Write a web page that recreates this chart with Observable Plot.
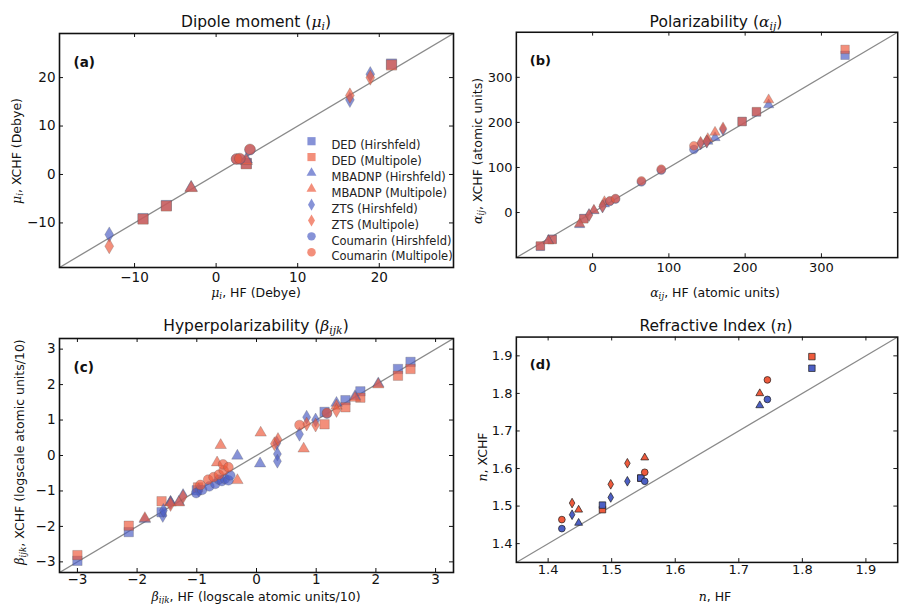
<!DOCTYPE html>
<html><head><meta charset="utf-8">
<script src="https://cdn.jsdelivr.net/npm/d3@7"></script>
<script src="https://cdn.jsdelivr.net/npm/@observablehq/plot@0.6"></script>
<style>
html,body{margin:0;padding:0;background:#fff;overflow:hidden;}
#wrap{position:relative;width:903px;height:604px;overflow:hidden;font-family:"DejaVu Sans",sans-serif;color:#111;}
.panel{position:absolute;}
.lab{position:absolute;white-space:nowrap;line-height:1;font-size:12.5px;}
.ttl{font-size:15.5px;}
.lab i{font-family:"DejaVu Serif",serif;font-style:italic;}
.lab sub{font-size:70%;vertical-align:-0.25em;line-height:0;}
</style></head><body><div id="wrap"></div>
<script>
// ---------- data ----------
const seriesNames = ["DED (Hirshfeld)","DED (Multipole)","MBADNP (Hirshfeld)","MBADNP (Multipole)","ZTS (Hirshfeld)","ZTS (Multipole)","Coumarin (Hirshfeld)","Coumarin (Multipole)"];

// (a) Dipole moment  [HF, XCHF]
const dipDEDH = [[-8.96,-9.1],[-6.1,-6.4],[3.7,2.3],[21.5,22.8]];
const dipDEDM = [[-8.96,-9.2],[-6.1,-6.5],[3.7,2.2],[21.5,22.6]];
const dipMBH  = [[-3.06,-2.7],[3.7,3.1]];
const dipMBM  = [[-3.06,-2.8],[3.7,2.8]];
const dipZTSH = [[-13.1,-12.4],[16.4,15.4],[18.9,20.7]];
const dipZTSM = [[-13.1,-14.8],[16.4,16.3],[18.9,20.0]];
const dipCouH = [[2.5,3.2],[2.9,3.2],[4.15,5.1]];
const dipCouM = [[2.5,3.2],[2.9,3.3],[4.15,5.2]];

// (b) Polarizability
const polDEDH = [[-68.5,-75],[-53,-59],[-11.5,-13],[196,202],[214.8,223],[331,349]];
const polDEDM = [[-68.5,-74],[-53,-60],[-11.5,-14],[196,202],[214.8,224],[331,362]];
const polMBH  = [[-58,-62],[-17,-27],[1.7,4],[15.5,19],[151,158],[160.5,166],[230.8,239]];
const polMBM  = [[-58,-63],[-17,-25],[1.7,5],[15.5,24],[151,164],[160.5,178],[230.8,250]];
const polZTSH = [[-4.7,-5],[13,13],[141.6,153],[149.7,157],[171,184]];
const polZTSM = [[-4.7,-6],[13,14],[141.6,155],[149.7,158],[171,187]];
const polCouH = [[22.7,25],[30,30],[64,68],[90,94],[132.8,140]];
const polCouM = [[22.7,26],[30,31],[64,70],[90,96],[132.8,148]];

// (c) Hyperpolarizability
const hypDEDH = [[-3.0,-2.97],[-2.14,-2.16],[-1.59,-1.6],[-1.0,-0.98],[1.14,1.23],[1.49,1.56],[1.74,1.81],[2.37,2.44],[2.58,2.64]];
const hypDEDM = [[-3.0,-2.81],[-2.14,-1.98],[-1.59,-1.29],[-0.98,-0.9],[1.14,0.88],[1.49,1.36],[1.74,1.63],[2.37,2.25],[2.58,2.44]];
const hypMBH  = [[-1.87,-1.8],[-1.44,-1.31],[-1.3,-1.31],[-0.32,-0.01],[0.06,-0.23],[1.34,1.48],[1.65,1.67],[2.04,2.03]];
const hypMBM  = [[-1.87,-1.77],[-1.44,-1.33],[-1.3,-1.33],[-0.6,0.29],[-0.66,-0.2],[0.07,0.64],[-0.32,-0.7],[0.79,0.19],[1.34,1.4],[1.65,1.62],[2.04,2.0]];
const hypZTSH = [[-1.57,-1.69],[-1.56,-1.55],[-1.44,-1.33],[-1.23,-1.13],[-0.97,-0.97],[0.34,0.35],[0.35,0.04],[0.35,-0.16],[0.72,0.6],[0.84,1.08],[0.99,1.0]];
const hypZTSM = [[-1.44,-1.38],[-1.23,-1.16],[0.3,0.33],[0.36,0.45],[0.84,0.89],[0.99,0.86],[1.34,1.27]];
const hypCouH = [[-1.01,-1.06],[-0.91,-0.97],[-0.79,-0.87],[-0.69,-0.8],[-0.63,-0.68],[-0.58,-0.72],[-0.53,-0.66],[-0.47,-0.7],[-0.44,-0.56],[1.18,1.18]];
const hypCouM = [[-0.94,-0.83],[-0.81,-0.68],[-0.72,-0.61],[-0.63,-0.54],[-0.55,-0.42],[-0.56,-0.25],[-0.47,-0.33],[0.72,0.86],[1.18,1.2]];

// (d) Refractive index
const refDEDH = [[1.4855,1.5026],[1.5458,1.5745],[1.815,1.867]];
const refDEDM = [[1.4855,1.4905],[1.5458,1.5745],[1.815,1.898]];
const refMBH  = [[1.448,1.455],[1.733,1.768]];
const refMBM  = [[1.448,1.490],[1.552,1.629],[1.733,1.80]];
const refZTSH = [[1.4377,1.477],[1.4985,1.523],[1.5247,1.566]];
const refZTSM = [[1.4377,1.508],[1.4985,1.558],[1.5247,1.614]];
const refCouH = [[1.4216,1.440],[1.552,1.566],[1.745,1.784]];
const refCouM = [[1.4216,1.464],[1.552,1.590],[1.745,1.836]];

// axis domains and ticks
const dipDomain = [-19.2, 29.1], dipTicks = [-10, 0, 10, 20];
const polDomain = [-100, 400],   polTicks = [0, 100, 200, 300];
const hypDomain = [-3.3, 3.3],   hypTicks = [-3, -2, -1, 0, 1, 2, 3];
const refDomain = [1.35, 1.95],  refTicks = [1.4, 1.5, 1.6, 1.7, 1.8, 1.9];

// ---------- style ----------
const BLUE = "#4c5fc4", RED = "#ee5a3c";
const SYM = ["square", "triangle", "diamond", "circle"];
const RF = [1.0, 0.8, 0.8, 0.92];

const panels = [
  {tag:"(a)", left:0, top:0, width:460, height:300, mL:59, mR:7, mT:33, mB:33, pad:5,
   domain:dipDomain, ticks:dipTicks, fmt:d3.format("d"),
   series:[dipDEDH,dipDEDM,dipMBH,dipMBM,dipZTSH,dipZTSM,dipCouH,dipCouM], base:5.8, soft:true, legend:true},
  {tag:"(b)", left:460, top:0, width:460, height:300, mL:58, mR:6, mT:33, mB:33, pad:5,
   domain:polDomain, ticks:polTicks, fmt:d3.format("d"),
   series:[polDEDH,polDEDM,polMBH,polMBM,polZTSH,polZTSM,polCouH,polCouM], base:5.0, soft:true},
  {tag:"(c)", left:0, top:300, width:460, height:304, mL:59, mR:7, mT:38, mB:32, pad:2,
   domain:hypDomain, ticks:hypTicks, fmt:d3.format("d"),
   series:[hypDEDH,hypDEDM,hypMBH,hypMBM,hypZTSH,hypZTSM,hypCouH,hypCouM], base:5.3, soft:true},
  {tag:"(d)", left:460, top:300, width:460, height:304, mL:58, mR:6, mT:38, mB:32, pad:2,
   domain:refDomain, ticks:refTicks, fmt:d3.format(".1f"),
   series:[refDEDM,refDEDH,refMBM,refMBH,refZTSM,refZTSH,refCouM,refCouH], order:"MH", base:3.8, soft:false}
];

const labels = [
  {cx:256, cy:23, cls:"ttl", html:'Dipole moment (<i>μ<sub>i</sub></i>)'},
  {cx:716, cy:23, cls:"ttl", html:'Polarizability (<i>α<sub>ij</sub></i>)'},
  {cx:256, cy:327, cls:"ttl", html:'Hyperpolarizability (<i>β<sub>ijk</sub></i>)'},
  {cx:716, cy:327, cls:"ttl", html:'Refractive Index (<i>n</i>)'},
  {cx:256, cy:293, html:'<i>μ<sub>i</sub></i>, HF (Debye)'},
  {cx:17, cy:151, rot:true, html:'<i>μ<sub>i</sub></i>, XCHF (Debye)'},
  {cx:715, cy:293, html:'<i>α<sub>ij</sub></i>, HF (atomic units)'},
  {cx:478, cy:151, rot:true, html:'<i>α<sub>ij</sub></i>, XCHF (atomic units)'},
  {cx:256, cy:597, html:'<i>β<sub>ijk</sub></i>, HF (logscale atomic units/10)'},
  {cx:20, cy:452, rot:true, html:'<i>β<sub>ijk</sub></i>, XCHF (logscale atomic units/10)'},
  {cx:715, cy:597, html:'<i>n</i>, HF'},
  {cx:483, cy:457, rot:true, html:'<i>n</i>, XCHF'}
];

const wrap = document.getElementById("wrap");

function dotStyle(mol, isM, soft, r) {
  return {
    symbol: SYM[mol], r: r * RF[mol],
    fill: isM ? RED : BLUE, fillOpacity: soft ? 0.68 : 1,
    stroke: soft ? "#555" : "#1a1a1a", strokeWidth: soft ? 0.6 : 0.7, strokeOpacity: soft ? 0.45 : 1
  };
}

for (const p of panels) {
  const fw = p.width - p.mL - p.mR, fh = p.height - p.mT - p.mB;
  const [lo, hi] = p.domain;
  const marks = [
    Plot.link([{a: lo, b: hi}], {x1: d => d.a, y1: d => d.a, x2: d => d.b, y2: d => d.b, stroke: "#8a8a8a", strokeWidth: 1.3, clip: true})
  ];
  p.series.forEach((pts, i) => {
    const mol = Math.floor(i / 2);
    let isM = i % 2 === 1;
    if (p.order === "MH") isM = !isM;
    marks.push(Plot.dot(pts, {x: d => d[0], y: d => d[1], ...dotStyle(mol, isM, p.soft, p.base)}));
  });
  if (p.legend) {
    seriesNames.forEach((name, i) => {
      const mol = Math.floor(i / 2), isM = i % 2 === 1;
      marks.push(Plot.dot([name], {frameAnchor: "top-left", dx: 252, dy: 107.7 + i * 15.86,
        ...dotStyle(mol, isM, true, 4.6), strokeOpacity: 0}));
      marks.push(Plot.text([name], {text: d => d, frameAnchor: "top-left", dx: 272, dy: 107.7 + i * 15.86,
        textAnchor: "start", fontSize: 11.5, fill: "#222"}));
    });
  }
  marks.push(
    Plot.frame({stroke: "#111", strokeWidth: 1.6}),
    Plot.tickX(p.ticks, {x: d => d, insetTop: fh - 4, stroke: "#111", strokeWidth: 1}),
    Plot.tickX(p.ticks, {x: d => d, insetBottom: fh - 4, stroke: "#111", strokeWidth: 1}),
    Plot.tickY(p.ticks, {y: d => d, insetRight: fw - 4, stroke: "#111", strokeWidth: 1}),
    Plot.tickY(p.ticks, {y: d => d, insetLeft: fw - 4, stroke: "#111", strokeWidth: 1}),
    Plot.axisX({ticks: p.ticks, tickSize: 0, tickPadding: p.pad, label: null, tickFormat: p.fmt}),
    Plot.axisY({ticks: p.ticks, tickSize: 0, tickPadding: 4, label: null, tickFormat: p.fmt}),
    Plot.text([p.tag], {text: d => d, frameAnchor: "top-left", dx: 14, dy: 24, textAnchor: "start",
      fontWeight: "bold", fontSize: 13.5, fill: "#111"})
  );
  const chart = Plot.plot({
    width: p.width, height: p.height,
    marginLeft: p.mL, marginRight: p.mR, marginTop: p.mT, marginBottom: p.mB,
    x: {domain: p.domain}, y: {domain: p.domain},
    style: {fontFamily: "DejaVu Sans, sans-serif", fontSize: "13.5px", color: "#111", background: "transparent", overflow: "visible"},
    marks
  });
  const div = document.createElement("div");
  div.className = "panel";
  div.style.left = p.left + "px";
  div.style.top = p.top + "px";
  div.appendChild(chart);
  wrap.appendChild(div);
}

for (const l of labels) {
  const d = document.createElement("div");
  d.className = "lab" + (l.cls ? " " + l.cls : "");
  d.innerHTML = l.html;
  d.style.left = l.cx + "px";
  d.style.top = l.cy + "px";
  d.style.transform = "translate(-50%,-50%)" + (l.rot ? " rotate(-90deg)" : "");
  wrap.appendChild(d);
}
</script></body></html>
